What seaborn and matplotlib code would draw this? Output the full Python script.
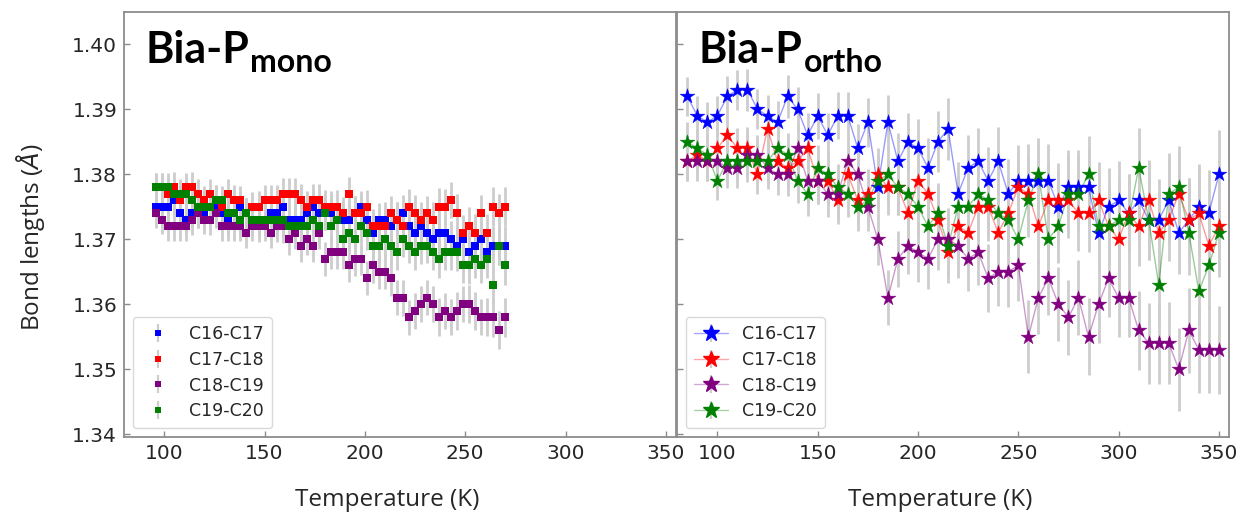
import matplotlib
matplotlib.use("Agg")
import matplotlib.pyplot as plt
import seaborn as sns
from matplotlib.lines import Line2D

# ---------------- data ----------------
bond_labels = ["C16-C17", "C17-C18", "C18-C19", "C19-C20"]
bond_colors = ["#0000ff", "#ff0000", "#800080", "#008000"]

# Bia-P mono
temp_mono = [96, 99, 102, 105, 108, 111, 114, 117, 120, 123,
             126, 129, 132, 135, 138, 141, 144, 147, 150, 153,
             156, 159, 162, 165, 168, 171, 174, 177, 180, 183,
             186, 189, 192, 195, 198, 201, 204, 207, 210, 213,
             216, 219, 222, 225, 228, 231, 234, 237, 240, 243,
             246, 249, 252, 255, 258, 261, 264, 267, 270]
mono_c16_c17 = [1.375, 1.375, 1.375, 1.376, 1.374, 1.373, 1.374, 1.374, 1.374, 1.375,
                1.375, 1.374, 1.373, 1.374, 1.375, 1.374, 1.373, 1.373, 1.373, 1.374,
                1.374, 1.375, 1.373, 1.373, 1.373, 1.374, 1.375, 1.374, 1.374, 1.374,
                1.373, 1.373, 1.373, 1.374, 1.375, 1.373, 1.371, 1.373, 1.373, 1.372,
                1.373, 1.374, 1.372, 1.371, 1.372, 1.371, 1.370, 1.371, 1.371, 1.370,
                1.369, 1.370, 1.368, 1.369, 1.370, 1.368, 1.369, 1.369, 1.369]
mono_c17_c18 = [1.378, 1.378, 1.377, 1.378, 1.376, 1.378, 1.378, 1.377, 1.376, 1.377,
                1.376, 1.375, 1.377, 1.376, 1.376, 1.374, 1.375, 1.375, 1.376, 1.376,
                1.376, 1.377, 1.377, 1.377, 1.376, 1.375, 1.376, 1.376, 1.375, 1.375,
                1.375, 1.374, 1.377, 1.374, 1.374, 1.375, 1.372, 1.372, 1.372, 1.374,
                1.373, 1.372, 1.375, 1.374, 1.373, 1.374, 1.373, 1.375, 1.375, 1.376,
                1.374, 1.371, 1.372, 1.371, 1.374, 1.371, 1.375, 1.374, 1.375]
mono_c18_c19 = [1.374, 1.373, 1.372, 1.372, 1.372, 1.372, 1.373, 1.374, 1.373, 1.373,
                1.374, 1.372, 1.372, 1.372, 1.372, 1.371, 1.372, 1.372, 1.372, 1.371,
                1.372, 1.372, 1.370, 1.371, 1.369, 1.370, 1.369, 1.371, 1.367, 1.368,
                1.368, 1.368, 1.366, 1.367, 1.367, 1.364, 1.366, 1.365, 1.365, 1.364,
                1.361, 1.361, 1.358, 1.359, 1.360, 1.361, 1.360, 1.358, 1.359, 1.358,
                1.359, 1.360, 1.360, 1.359, 1.358, 1.358, 1.358, 1.356, 1.358]
mono_c19_c20 = [1.378, 1.378, 1.378, 1.377, 1.377, 1.377, 1.376, 1.375, 1.375, 1.375,
                1.376, 1.376, 1.374, 1.374, 1.373, 1.374, 1.373, 1.373, 1.373, 1.373,
                1.373, 1.373, 1.372, 1.372, 1.372, 1.372, 1.373, 1.372, 1.374, 1.372,
                1.373, 1.370, 1.371, 1.370, 1.372, 1.371, 1.369, 1.369, 1.370, 1.369,
                1.368, 1.370, 1.369, 1.368, 1.369, 1.369, 1.368, 1.367, 1.368, 1.368,
                1.368, 1.366, 1.366, 1.367, 1.366, 1.367, 1.363, 1.369, 1.366]
mono_err = [0.0022, 0.0022, 0.0022, 0.0023, 0.0022, 0.0022, 0.0023, 0.0022, 0.0022, 0.0023,
            0.0023, 0.0022, 0.0023, 0.0023, 0.0022, 0.0023, 0.0023, 0.0024, 0.0023, 0.0024,
            0.0024, 0.0025, 0.0024, 0.0025, 0.0025, 0.0024, 0.0025, 0.0025, 0.0026, 0.0025,
            0.0026, 0.0025, 0.0026, 0.0026, 0.0025, 0.0026, 0.0027, 0.0026, 0.0027, 0.0027,
            0.0027, 0.0028, 0.0027, 0.0028, 0.0028, 0.0027, 0.0028, 0.0029, 0.0028, 0.0028,
            0.0029, 0.0028, 0.0029, 0.0029, 0.0028, 0.0029, 0.0030, 0.0029, 0.0030]

# Bia-P ortho
temp_ortho = [85, 90, 95, 100, 105, 110, 115, 120, 125, 130,
              135, 140, 145, 150, 155, 160, 165, 170, 175, 180,
              185, 190, 195, 200, 205, 210, 215, 220, 225, 230,
              235, 240, 245, 250, 255, 260, 265, 270, 275, 280,
              285, 290, 295, 300, 305, 310, 315, 320, 325, 330,
              335, 340, 345, 350]
ortho_c16_c17 = [1.392, 1.389, 1.388, 1.389, 1.392, 1.393, 1.393, 1.390, 1.389, 1.388,
                 1.392, 1.390, 1.386, 1.389, 1.386, 1.389, 1.389, 1.384, 1.388, 1.378,
                 1.388, 1.382, 1.385, 1.384, 1.381, 1.385, 1.387, 1.377, 1.381, 1.382,
                 1.379, 1.382, 1.377, 1.379, 1.379, 1.379, 1.379, 1.375, 1.378, 1.378,
                 1.378, 1.371, 1.375, 1.376, 1.374, 1.376, 1.373, 1.373, 1.376, 1.371,
                 1.373, 1.375, 1.374, 1.380]
ortho_c17_c18 = [1.382, 1.383, 1.382, 1.384, 1.386, 1.384, 1.384, 1.380, 1.387, 1.382,
                 1.381, 1.382, 1.384, 1.379, 1.379, 1.376, 1.380, 1.376, 1.377, 1.380,
                 1.378, 1.378, 1.374, 1.379, 1.377, 1.373, 1.368, 1.372, 1.371, 1.375,
                 1.375, 1.371, 1.374, 1.378, 1.377, 1.372, 1.376, 1.376, 1.376, 1.374,
                 1.374, 1.376, 1.372, 1.370, 1.374, 1.372, 1.376, 1.371, 1.373, 1.377,
                 1.373, 1.374, 1.369, 1.372]
ortho_c18_c19 = [1.382, 1.382, 1.382, 1.382, 1.381, 1.381, 1.383, 1.383, 1.381, 1.380,
                 1.380, 1.384, 1.379, 1.379, 1.377, 1.377, 1.382, 1.380, 1.375, 1.370,
                 1.361, 1.367, 1.369, 1.368, 1.367, 1.370, 1.370, 1.369, 1.367, 1.368,
                 1.364, 1.365, 1.365, 1.366, 1.355, 1.361, 1.364, 1.360, 1.358, 1.361,
                 1.355, 1.360, 1.364, 1.361, 1.361, 1.356, 1.354, 1.354, 1.354, 1.350,
                 1.356, 1.353, 1.353, 1.353]
ortho_c19_c20 = [1.385, 1.384, 1.383, 1.379, 1.382, 1.382, 1.382, 1.382, 1.382, 1.384,
                 1.383, 1.379, 1.377, 1.381, 1.380, 1.378, 1.377, 1.375, 1.376, 1.379,
                 1.380, 1.378, 1.377, 1.375, 1.372, 1.374, 1.369, 1.375, 1.375, 1.377,
                 1.376, 1.374, 1.373, 1.370, 1.376, 1.380, 1.370, 1.372, 1.377, 1.377,
                 1.380, 1.372, 1.372, 1.373, 1.373, 1.381, 1.373, 1.363, 1.377, 1.378,
                 1.371, 1.362, 1.366, 1.371]
ortho_err = [0.0030, 0.0030, 0.0031, 0.0030, 0.0031, 0.0031, 0.0032, 0.0031, 0.0032, 0.0032,
             0.0033, 0.0034, 0.0034, 0.0035, 0.0035, 0.0036, 0.0036, 0.0037, 0.0038, 0.0040,
             0.0042, 0.0043, 0.0044, 0.0045, 0.0046, 0.0047, 0.0048, 0.0049, 0.0050, 0.0051,
             0.0052, 0.0053, 0.0054, 0.0055, 0.0056, 0.0056, 0.0057, 0.0057, 0.0058, 0.0058,
             0.0059, 0.0059, 0.0060, 0.0060, 0.0061, 0.0061, 0.0062, 0.0062, 0.0063, 0.0064,
             0.0065, 0.0066, 0.0067, 0.0068]

yticks = [1.34, 1.35, 1.36, 1.37, 1.38, 1.39, 1.40]
xticks = [100, 150, 200, 250, 300, 350]

mono_series = [mono_c16_c17, mono_c17_c18, mono_c18_c19, mono_c19_c20]
ortho_series = [ortho_c16_c17, ortho_c17_c18, ortho_c18_c19, ortho_c19_c20]

# ---------------- style ----------------
sns.set_theme(style="white")
plt.rcParams["font.family"] = ["DejaVu Sans"]
spine_col = "#8c8c8c"
err_col = "#cdcdcd"
text_col = "#262626"

fig = plt.figure(figsize=(12.44, 5.17), dpi=100)
ax1 = fig.add_axes([0.0997, 0.155, 0.4437, 0.821])
ax2 = fig.add_axes([0.5444, 0.155, 0.4435, 0.821])

# left panel: squares
for vals, col in zip(mono_series, bond_colors):
    ax1.errorbar(temp_mono, vals, yerr=mono_err, fmt="none", ecolor=err_col,
                 elinewidth=2.0, capsize=0, zorder=1)
for vals, col in zip(mono_series, bond_colors):
    sns.scatterplot(x=temp_mono, y=vals, ax=ax1, marker="s", s=26, color=col,
                    linewidth=0, zorder=3, legend=False)

# right panel: stars with thin lines
for vals, col in zip(ortho_series, bond_colors):
    ax2.errorbar(temp_ortho, vals, yerr=ortho_err, fmt="none", ecolor=err_col,
                 elinewidth=2.0, capsize=0, zorder=1)
for vals, col in zip(ortho_series, bond_colors):
    sns.lineplot(x=temp_ortho, y=vals, ax=ax2, color=col, alpha=0.4, linewidth=1.0,
                 estimator=None, sort=False, zorder=2, legend=False)
    sns.scatterplot(x=temp_ortho, y=vals, ax=ax2, marker="*", s=125, color=col,
                    linewidth=0.3, edgecolor=col, zorder=3, legend=False)

for ax in (ax1, ax2):
    ax.set_xlim(80, 355)
    ax.set_ylim(1.3396, 1.4049)
    ax.set_xticks(xticks)
    ax.set_yticks(yticks)
    for sp in ax.spines.values():
        sp.set_color(spine_col)
        sp.set_linewidth(1.3)
    ax.tick_params(axis="both", direction="in", length=4, width=1.0,
                   colors=spine_col, labelcolor=text_col, labelsize=14.5, pad=5,
                   bottom=True, left=True, top=False, right=False)
    ax.set_xlabel("Temperature (K)", fontsize=17.5, color=text_col,
                  family=["Open Sans", "DejaVu Sans"])
    ax.xaxis.set_label_coords(0.476, -0.12)

ax1.set_yticklabels([f"{v:.2f}" for v in yticks])
ax2.set_yticklabels([])
ax1.set_ylabel("Bond lengths ($\\AA$)", fontsize=17.5, color=text_col,
               family=["Open Sans", "DejaVu Sans"])
ax1.yaxis.set_label_coords(-0.14, 0.47)

# titles
for ax, sub in ((ax1, "mono"), (ax2, "ortho")):
    t1 = ax.text(0.038, 0.88, "Bia-P", transform=ax.transAxes, fontsize=31,
                 fontweight="bold", family=["Lato", "DejaVu Sans"], color="black",
                 va="baseline", ha="left")
    ax.annotate(sub, xy=(1, 0), xycoords=t1, xytext=(1, -1), textcoords="offset points",
                fontsize=23, fontweight="bold", family=["Lato", "DejaVu Sans"],
                color="black", va="baseline", ha="left")

# legends
bar_handle = Line2D([], [], linestyle="none", marker="|", markersize=13,
                    markeredgewidth=1.6, color=err_col)
mono_handles = [(bar_handle, Line2D([], [], linestyle="none", marker="s", markersize=5,
                                    color=c, markeredgewidth=0)) for c in bond_colors]
ortho_handles = [(bar_handle, Line2D([], [], linestyle="-", linewidth=1.0,
                                     color=matplotlib.colors.to_rgba(c, 0.35), marker="*",
                                     markersize=12, markerfacecolor=c, markeredgecolor=c))
                 for c in bond_colors]
for ax, hs in ((ax1, mono_handles), (ax2, ortho_handles)):
    leg = ax.legend(hs, bond_labels, loc="lower left", fontsize=12.5,
                    frameon=True, fancybox=True, labelspacing=0.45,
                    handlelength=2.0, handletextpad=0.8, borderpad=0.45)
    leg.get_frame().set_edgecolor("#d0d0d0")
    leg.get_frame().set_linewidth(1.0)
    for t in leg.get_texts():
        t.set_color(text_col)

fig.savefig("out.png", dpi=100)
